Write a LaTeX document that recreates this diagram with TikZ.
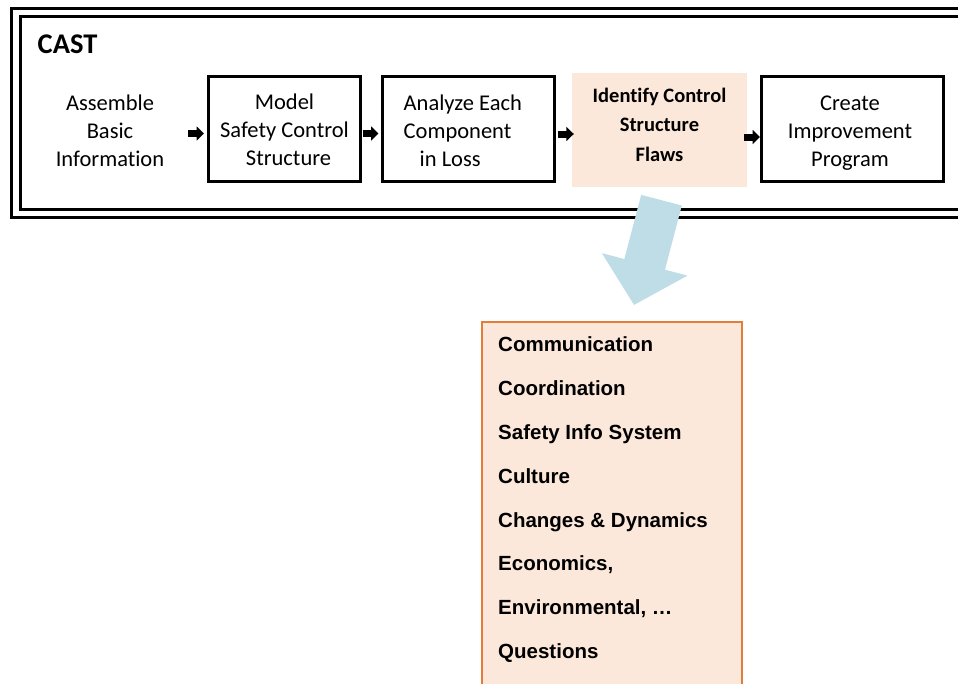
\documentclass[tikz,border=0pt]{standalone}
\usepackage{fontspec}
\setmainfont{Carlito}[Ligatures=CommonOff]
\newfontfamily\arialfont{Liberation Sans}
\usetikzlibrary{arrows.meta,calc}
\definecolor{peach}{RGB}{251,232,218}
\definecolor{flowblue}{RGB}{190,221,230}
\definecolor{listedge}{RGB}{226,126,58}

\begin{document}
\begin{tikzpicture}[x=1pt,y=-1pt,
  frameline/.style={line width=3pt},
  steptext/.style={align=center, inner sep=0pt,
    font=\fontsize{22.5}{28}\selectfont},
  stepbox/.style={draw, line width=3pt, minimum height=105pt, inner sep=0pt},
  flowarrow/.style={line width=7pt, -{Triangle[length=7.5pt,width=14pt]}},
  itemtext/.style={anchor=west, inner sep=0pt, text height=15pt, text depth=4pt,
    font=\arialfont\bfseries\fontsize{20.5}{24}\selectfont}
]
\clip (0,0) rectangle (958,683);
\fill[white] (0,0) rectangle (958,683);

% double frame of the CAST process
\draw[frameline] (11,8) rectangle (975,217.5);
\draw[frameline] (20,16.5) rectangle (970,209);
\node[anchor=west, inner sep=0pt, font=\bfseries\fontsize{28.5}{32}\selectfont]
  (cast) at (37.5,44) {CAST};

% process steps: boxes
\node[stepbox, minimum width=152pt] (model) at (284.5,128.5) {};
\node[stepbox, minimum width=172pt] (analyze) at (468,128.5) {};
\node[fill=peach, minimum width=175pt, minimum height=114pt, inner sep=0pt]
  (ident) at (659.5,130) {};
\node[stepbox, minimum width=182pt] (create) at (852.5,129) {};

% process steps: labels
\node[steptext] (asm) at (110,131) {Assemble\\Basic\\Information};
\node[steptext] (modeltxt) at ($(model.center)+(0,1.5)$)
  {Model\\Safety Control\\\hspace*{8pt}Structure};
\node[steptext, align=left, anchor=west] (analyzetxt) at ($(analyze.west)+(23,2.5)$)
  {Analyze Each\\Component\\\hspace*{16pt}in Loss};
\node[steptext, font=\bfseries\fontsize{20.5}{29.5}\selectfont]
  (identtxt) at ($(ident.center)+(0,-5.5)$) {Identify Control\\Structure\\Flaws};
\node[steptext] (createtxt) at ($(create.center)+(-2.5,4)$)
  {Create\\Improvement\\Program};

% small arrows between the steps
\draw[flowarrow] ($(model.west)+(-19,5)$) -- ($(model.west)+(-3,5)$);
\draw[flowarrow] ($(analyze.west)+(-18,5)$) -- ($(analyze.west)+(-2,5)$);
\draw[flowarrow] ($(ident.west)+(-14,4)$) -- ($(ident.west)+(2,4)$);
\draw[flowarrow] ($(create.west)+(-16,8)$) -- ($(create.west)+(0,8)$);

% flaw categories
\node[draw=listedge, fill=peach, line width=2pt, minimum width=260pt,
  minimum height=420pt, inner sep=0pt] (list) at (612,532) {};
\node[itemtext] (i1) at (498,345.5) {Communication};
\node[itemtext] (i2) at (498,389.5) {Coordination};
\node[itemtext] (i3) at (498,433.5) {Safety Info System};
\node[itemtext] (i4) at (498,477.5) {Culture};
\node[itemtext] (i5) at (498,521.5) {Changes \& Dynamics};
\node[itemtext] (i6) at (498,564.5) {Economics,};
\node[itemtext] (i7) at (498,608.5) {Environmental, …};
\node[itemtext] (i8) at (498,652.5) {Questions};

% wide arrow from the flaws step down to the categories
\draw[flowblue, line width=42pt, -{Triangle[length=42pt,width=86pt]}]
  ($(ident.south)+(2,13)$) -- ($(list.north)+(22,-16)$);
\end{tikzpicture}
\end{document}
